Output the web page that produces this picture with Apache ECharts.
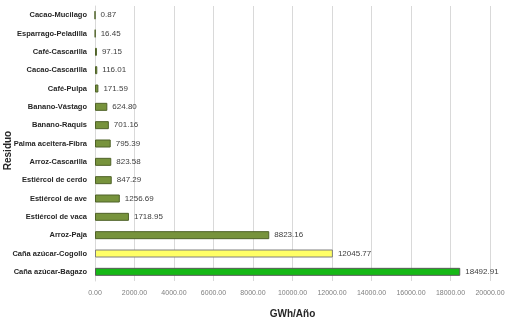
<!DOCTYPE html>
<html>
<head>
<meta charset="utf-8">
<script src="https://cdn.jsdelivr.net/npm/echarts@6/dist/echarts.min.js"></script>
<style>
html,body{margin:0;padding:0;background:#fff;}
#c{width:509px;height:324px;}
</style>
</head>
<body>
<div id="c"></div>
<script>
const categories = [
  "Cacao-Mucilago", "Esparrago-Peladilla", "Café-Cascarilla", "Cacao-Cascarilla",
  "Café-Pulpa", "Banano-Vástago", "Banano-Raquis", "Palma aceitera-Fibra",
  "Arroz-Cascarilla", "Estiércol de cerdo", "Estiércol de ave", "Estiércol de vaca",
  "Arroz-Paja", "Caña azúcar-Cogollo", "Caña azúcar-Bagazo"
];
const values = [
  0.87, 16.45, 97.15, 116.01, 171.59, 624.80, 701.16, 795.39,
  823.58, 847.29, 1256.69, 1718.95, 8823.16, 12045.77, 18492.91
];
const xTicks = [0, 2000, 4000, 6000, 8000, 10000, 12000, 14000, 16000, 18000, 20000];

const olive = { color: "#77933C", borderColor: "#4F6228" };
const specialStyles = {
  "Caña azúcar-Cogollo": { color: "#FFFF66", borderColor: "#7F7F7F" },
  "Caña azúcar-Bagazo": { color: "#16B816", borderColor: "#5A5A5A" }
};

const chart = echarts.init(document.getElementById("c"), null, { renderer: "canvas" });
const font = "'Liberation Sans', Arial, sans-serif";

chart.setOption({
  animation: false,
  backgroundColor: "#ffffff",
  grid: { left: 95, right: 19, top: 6, bottom: 43, containLabel: false, outerBoundsMode: "none" },
  xAxis: {
    type: "value",
    min: xTicks[0],
    max: xTicks[xTicks.length - 1],
    interval: xTicks[1] - xTicks[0],
    name: "GWh/Año",
    nameLocation: "middle",
    nameGap: 28,
    nameTextStyle: { fontFamily: font, fontWeight: "bold", fontSize: 10, color: "#262626" },
    axisLine: { show: false },
    axisTick: { show: false },
    axisLabel: {
      fontFamily: font, fontSize: 7, color: "#7F7F7F", margin: 9,
      formatter: v => v.toFixed(2)
    },
    splitLine: { show: true, lineStyle: { color: "#D9D9D9", width: 1 } }
  },
  yAxis: {
    type: "category",
    data: categories,
    inverse: true,
    name: "Residuo",
    nameLocation: "middle",
    nameRotate: 90,
    nameGap: 82,
    nameMoveOverlap: false,
    nameTextStyle: { fontFamily: font, fontWeight: "bold", fontSize: 10, color: "#262626", padding: [0, 14, 0, 0] },
    axisLine: { show: true, lineStyle: { color: "#D9D9D9" } },
    axisTick: { show: false },
    axisLabel: { fontFamily: font, fontSize: 7.5, fontWeight: "bold", color: "#262626", margin: 8 }
  },
  series: [{
    type: "bar",
    barWidth: 8,
    data: values.map((v, i) => ({
      value: v,
      itemStyle: Object.assign({ borderWidth: 1 }, specialStyles[categories[i]] || olive)
    })),
    label: {
      show: true,
      position: "right",
      distance: 5,
      fontFamily: font,
      fontSize: 8,
      color: "#404040",
      formatter: p => p.value.toFixed(2)
    }
  }]
});
</script>
</body>
</html>
